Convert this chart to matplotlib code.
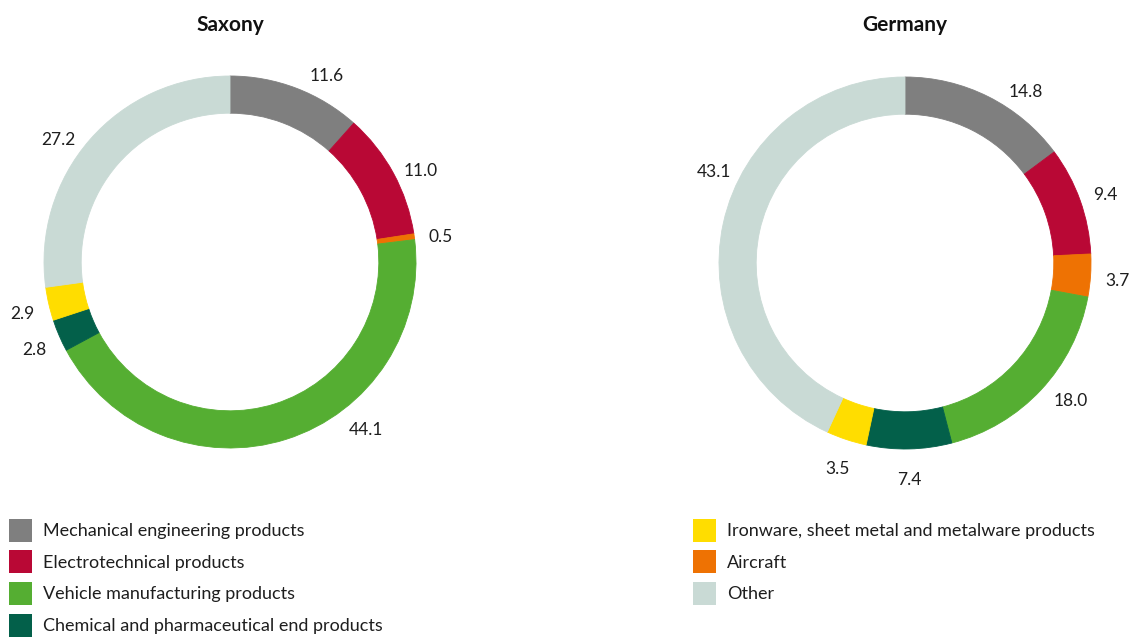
import numpy as np
import matplotlib
matplotlib.use("Agg")
import matplotlib.pyplot as plt
from matplotlib.patches import Rectangle

plt.rcParams['font.family'] = ['Lato', 'DejaVu Sans']

# categories in slice order (clockwise from 12 o'clock)
categories = [
    "Mechanical engineering products",
    "Electrotechnical products",
    "Aircraft",
    "Vehicle manufacturing products",
    "Chemical and pharmaceutical end products",
    "Ironware, sheet metal and metalware products",
    "Other",
]
saxony = [11.6, 11.0, 0.5, 44.1, 2.8, 2.9, 27.2]
germany = [14.8, 9.4, 3.7, 18.0, 7.4, 3.5, 43.1]
regions = ["Saxony", "Germany"]

colors = ["#7f7f7f", "#b90835", "#ee7203", "#55ae32", "#03604a", "#ffdd00", "#c9dad5"]
# label angle nudges (deg) for the big slices, like the original layout
nudge = {
    "Saxony": [-6, -2, 0, 22, 0, 0, 5],
    "Germany": [-8, 0, 0, 4, 0, 0, -14],
}
legend_left = [0, 1, 3, 4]
legend_right = [5, 2, 6]

W, H = 1135, 637
fig = plt.figure(figsize=(W / 100, H / 100), dpi=100)

R_px = 186
lim = 1.25
side = 2 * lim * R_px
centers = {"Saxony": (230, 262), "Germany": (905, 263)}
text_col = "#1e1e1e"

for name, vals in zip(regions, [saxony, germany]):
    cx, cy = centers[name]
    ax = fig.add_axes([(cx - side / 2) / W, (H - cy - side / 2) / H, side / W, side / H])
    wedges, _ = ax.pie(vals, colors=colors, startangle=90, counterclock=False,
                       radius=1, wedgeprops=dict(width=0.2, linewidth=0.6, edgecolor=None))
    for w, c in zip(wedges, colors):
        w.set_edgecolor(c)
    total = sum(vals)
    cum = 0
    for i, v in enumerate(vals):
        mid = 90 - 360 * (cum + v / 2) / total + nudge[name][i]
        cum += v
        r = 1.145
        ax.text(r * np.cos(np.radians(mid)), r * np.sin(np.radians(mid)) - 0.02, f"{v:.1f}",
                ha="center", va="center", fontsize=12.5, color=text_col)
    ax.set_xlim(-lim, lim)
    ax.set_ylim(-lim, lim)
    ax.set_aspect("equal")
    ax.axis("off")
    fig.text(cx / W, 1 - 25 / H, name, ha="center", va="center",
             fontsize=15, fontweight="bold", color="#111111")

# legend, two columns
def legend_col(idx, x_box, y0):
    for k, i in enumerate(idx):
        y = y0 + k * 31.7
        fig.add_artist(Rectangle((x_box / W, 1 - (y + 11.5) / H), 23 / W, 23 / H,
                                 transform=fig.transFigure, color=colors[i], lw=0))
        fig.text((x_box + 34) / W, 1 - (y + 1) / H, categories[i], ha="left", va="center",
                 fontsize=13, color=text_col)

legend_col(legend_left, 9, 530)
legend_col(legend_right, 693, 530)

fig.savefig("out.png", dpi=100, facecolor="white")
